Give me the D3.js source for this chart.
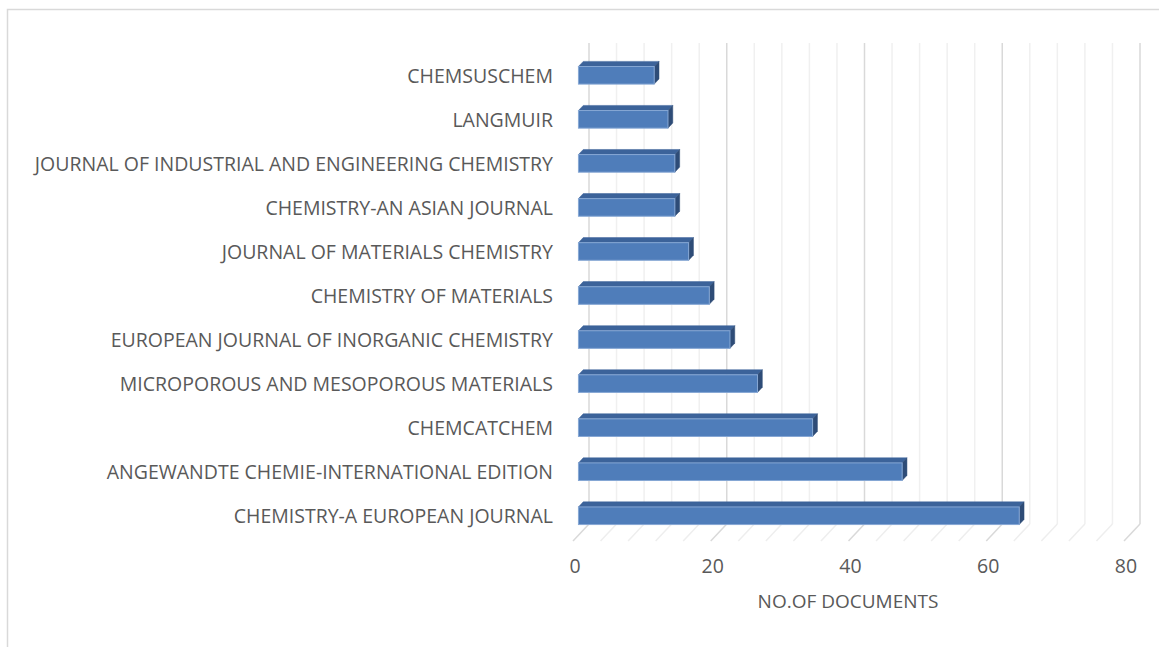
<!DOCTYPE html>
<meta charset="utf-8">
<script src="https://cdn.jsdelivr.net/npm/d3@7"></script>
<style>
  body { margin: 0; background: #fff; }
  text { font-family: "Open Sans", sans-serif; fill: #595959; }
</style>
<body>
<script>

var journals = [
  "CHEMSUSCHEM",
  "LANGMUIR",
  "JOURNAL OF INDUSTRIAL AND ENGINEERING CHEMISTRY",
  "CHEMISTRY-AN ASIAN JOURNAL",
  "JOURNAL OF MATERIALS CHEMISTRY",
  "CHEMISTRY OF MATERIALS",
  "EUROPEAN JOURNAL OF INORGANIC CHEMISTRY",
  "MICROPOROUS AND MESOPOROUS MATERIALS",
  "CHEMCATCHEM",
  "ANGEWANDTE CHEMIE-INTERNATIONAL EDITION",
  "CHEMISTRY-A EUROPEAN JOURNAL"
]
var documents = [11, 13, 14, 14, 16, 19, 22, 26, 34, 47, 64]
var ticks = [0, 20, 40, 60, 80]
var minorTicks = d3.range(0, 81, 4)
var axisTitle = "NO.OF DOCUMENTS"

var width = 1159
var height = 647

// back wall scale, depth is drawn as an oblique offset toward the viewer
var x = d3.scaleLinear().domain([0, 80]).range([589, 1140])
var depthX = -16, depthY = 17
var wallTop = 43, wallBottom = 524

var y = d3.scaleBand().domain(journals).range([56.5, 541]).paddingInner(0.6).paddingOuter(0.3)

var svg = d3.select("body").append("svg")
            .attr("width", width)
            .attr("height", height)

// chart area border
svg.append("rect")
   .attr("x", 7.5).attr("y", 9.5)
   .attr("width", width + 10).attr("height", height + 10)
   .attr("fill", "none")
   .attr("stroke", "#d9d9d9")
   .attr("stroke-width", 1.5)

// back wall gridlines
svg.append("g").selectAll("line")
   .data(minorTicks)
   .join("line")
   .attr("x1", d => x(d)).attr("x2", d => x(d))
   .attr("y1", wallTop).attr("y2", wallBottom)
   .attr("stroke", d => d % 20 == 0 ? "#d9d9d9" : "#f0f0f0")
   .attr("stroke-width", 1.5)

// floor gridlines
svg.append("g").selectAll("line")
   .data(minorTicks)
   .join("line")
   .attr("x1", d => x(d)).attr("y1", wallBottom)
   .attr("x2", d => x(d) + depthX).attr("y2", wallBottom + depthY)
   .attr("stroke", d => d % 20 == 0 ? "#d9d9d9" : "#eeeeee")
   .attr("stroke-width", 1.5)

// bars: front face at depth 0.66, back face at 0.36
var tFront = 0.66, tBack = 0.36
function px(v, t) { return x(v) + t * depthX }
function py(yy, t) { return yy + t * depthY - depthY * 0.85 }

var bars = svg.append("g").selectAll("g")
   .data(journals)
   .join("g")

// top face
bars.append("path")
    .attr("d", function(d, i) {
      var y0 = y(d)
      return "M" + px(0, tFront) + "," + py(y0, tFront) +
             "L" + px(documents[i], tFront) + "," + py(y0, tFront) +
             "L" + px(documents[i], tBack) + "," + py(y0, tBack) +
             "L" + px(0, tBack) + "," + py(y0, tBack) + "Z"
    })
    .attr("fill", "#3c639a")
    .attr("stroke", "#3c639a")
    .attr("stroke-width", 0.5)

// side face
bars.append("path")
    .attr("d", function(d, i) {
      var y0 = y(d), y1 = y(d) + y.bandwidth()
      var v = documents[i]
      return "M" + px(v, tFront) + "," + py(y0, tFront) +
             "L" + px(v, tBack) + "," + py(y0, tBack) +
             "L" + px(v, tBack) + "," + py(y1, tBack) +
             "L" + px(v, tFront) + "," + py(y1, tFront) + "Z"
    })
    .attr("fill", "#2e4c77")
    .attr("stroke", "#2e4c77")
    .attr("stroke-width", 0.5)

// front face
bars.append("rect")
    .attr("x", px(0, tFront))
    .attr("y", d => py(y(d), tFront))
    .attr("width", (d, i) => px(documents[i], tFront) - px(0, tFront))
    .attr("height", y.bandwidth())
    .attr("fill", "#4f7dba")
    .attr("stroke", "#86a7d4")
    .attr("stroke-width", 1)

// category labels
svg.append("g").selectAll("text")
   .data(journals)
   .join("text")
   .attr("x", 553)
   .attr("y", d => py(y(d), tFront) + y.bandwidth() / 2 + 2)
   .attr("text-anchor", "end")
   .attr("dominant-baseline", "middle")
   .style("font-size", "19.5px")
   .text(d => d)

// value axis labels along the front edge of the floor
svg.append("g").selectAll("text")
   .data(ticks)
   .join("text")
   .attr("x", d => x(d) + depthX + 2)
   .attr("y", 568)
   .attr("text-anchor", "middle")
   .attr("dominant-baseline", "middle")
   .style("font-size", "19.5px")
   .text(d => d)

svg.append("text")
   .attr("x", 848)
   .attr("y", 603)
   .attr("text-anchor", "middle")
   .attr("dominant-baseline", "middle")
   .style("font-size", "19px")
   .text(axisTitle)

</script>
</body>
